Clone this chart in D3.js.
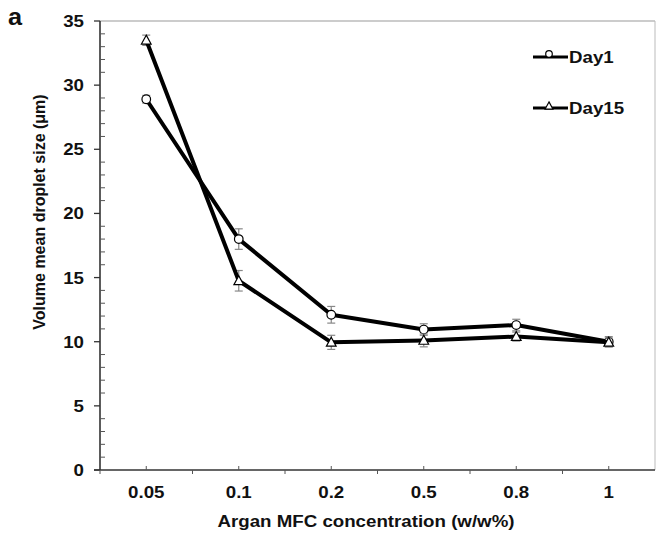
<!DOCTYPE html>
<html><head><meta charset="utf-8">
<script src="https://cdn.jsdelivr.net/npm/d3@7"></script>
<style>body{margin:0;background:#fff}svg{display:block}text{font-family:"Liberation Sans",Arial,sans-serif;font-weight:bold}</style>
</head><body><svg id="c" width="656" height="541"></svg>
<script>
const categories = ["0.05","0.1","0.2","0.5","0.8","1"];
const day1 = [28.9, 18.0, 12.1, 10.95, 11.3, 10.0];
const day1Err = [0.3, 0.8, 0.65, 0.45, 0.45, 0.4];
const day15 = [33.5, 14.75, 9.95, 10.1, 10.4, 9.95];
const day15Err = [0.4, 0.8, 0.55, 0.5, 0.35, 0.35];
const yTicks = [0,5,10,15,20,25,30,35];
const seriesNames = ["Day1","Day15"];

const svg = d3.select("#c");
const L=100, R=655, T=21, B=470;
const SX = 1.1; // horizontal stretch of text
const x = d3.scaleBand().domain(categories).range([L,R]);
const y = d3.scaleLinear().domain([0,35]).range([B,T]);

function htext(px, py, str, size, anchor){
  return svg.append("text").attr("transform",`translate(${px},${py}) scale(${SX},1)`)
    .attr("text-anchor",anchor||"start").attr("font-size",size).attr("fill","#111").text(str);
}

// frame top/right
svg.append("line").attr("x1",L).attr("x2",R).attr("y1",T).attr("y2",T).attr("stroke","#999").attr("stroke-width",1.2);
svg.append("line").attr("x1",R).attr("x2",R).attr("y1",T).attr("y2",B).attr("stroke","#bbb").attr("stroke-width",1);

// y axis
const ya = svg.append("g");
ya.append("line").attr("x1",L).attr("x2",L).attr("y1",T).attr("y2",B).attr("stroke","#333").attr("stroke-width",1.6);
d3.range(0,36).forEach(v=>{
  if(v%5===0){
    ya.append("line").attr("x1",L-6).attr("x2",L).attr("y1",y(v)).attr("y2",y(v)).attr("stroke","#333").attr("stroke-width",1.3);
  } else {
    ya.append("line").attr("x1",L).attr("x2",L+5).attr("y1",y(v)).attr("y2",y(v)).attr("stroke","#555").attr("stroke-width",1);
  }
});
yTicks.forEach(v=> htext(L-16, y(v)+6, v, 17, "end"));

// x axis
const xa = svg.append("g");
xa.append("line").attr("x1",L-6).attr("x2",R).attr("y1",B).attr("y2",B).attr("stroke","#333").attr("stroke-width",1.6);
categories.forEach((c,i)=>{
  const cx = x(c)+x.bandwidth()/2;
  xa.append("line").attr("x1",cx).attr("x2",cx).attr("y1",B-4).attr("y2",B).attr("stroke","#555").attr("stroke-width",1);
  xa.append("line").attr("x1",x(c)).attr("x2",x(c)).attr("y1",B).attr("y2",B+4).attr("stroke","#555").attr("stroke-width",1);
  htext(cx, 498, c, 17, "middle");
});

// titles
htext(366, 527, "Argan MFC concentration (w/w%)", 17, "middle");
svg.append("text").attr("transform",`translate(45,212) rotate(-90)`).attr("text-anchor","middle").attr("font-size",16).attr("fill","#111").text("Volume mean droplet size (μm)");
htext(8, 25, "a", 23, "start");

const cxOf = c => x(c)+x.bandwidth()/2;
const line = d3.line().x((d,i)=>cxOf(categories[i])).y(d=>y(d));

function drawMarker(g, cx, cy, m, r){
  if(m==="circle"){
    g.append("circle").attr("cx",cx).attr("cy",cy).attr("r",r).attr("fill","#fff").attr("stroke","#000").attr("stroke-width",1.2);
  } else {
    const s=r+0.8;
    g.append("path").attr("d",`M${cx},${cy-s}L${cx+s*0.95},${cy+s*0.75}L${cx-s*0.95},${cy+s*0.75}Z`).attr("fill","#fff").attr("stroke","#000").attr("stroke-width",1.2);
  }
}
function series(vals, errs, marker){
  const g = svg.append("g");
  vals.forEach((v,i)=>{
    const cx = cxOf(categories[i]);
    const e = errs[i];
    g.append("line").attr("x1",cx).attr("x2",cx).attr("y1",y(v-e)).attr("y2",y(v+e)).attr("stroke","#888").attr("stroke-width",1.2);
    [v-e,v+e].forEach(w=>g.append("line").attr("x1",cx-4).attr("x2",cx+4).attr("y1",y(w)).attr("y2",y(w)).attr("stroke","#888").attr("stroke-width",1.2));
  });
  g.append("path").attr("d",line(vals)).attr("fill","none").attr("stroke","#000").attr("stroke-width",4).attr("stroke-linejoin","round");
  vals.forEach((v,i)=>drawMarker(g, cxOf(categories[i]), y(v), marker, 4.3));
}
series(day1, day1Err, "circle");
series(day15, day15Err, "tri");

// legend
const legendY = [57, 108];
const legendM = ["circle","tri"];
seriesNames.forEach((name,i)=>{
  const ly = legendY[i];
  svg.append("line").attr("x1",533).attr("x2",568).attr("y1",ly).attr("y2",ly).attr("stroke","#000").attr("stroke-width",3);
  drawMarker(svg, 549, legendM[i]==="circle"? ly-3 : ly-2, legendM[i], 3.3);
  htext(569, ly+6, name, 17, "start");
});
</script></body></html>
